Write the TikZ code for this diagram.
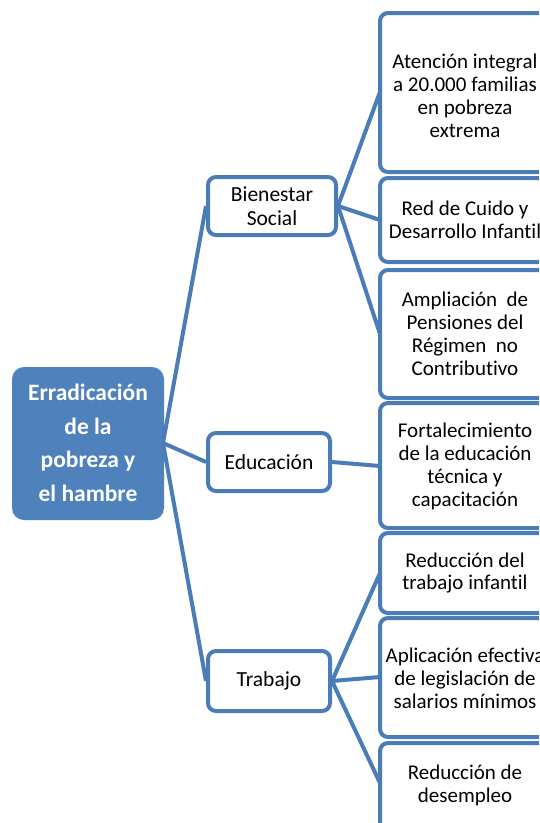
\documentclass[tikz,border=0pt]{standalone}
\usepackage{fontspec}
\setmainfont[Ligatures={NoCommon}]{Carlito}
\definecolor{blu}{RGB}{79,129,189}
\definecolor{edge}{RGB}{74,124,184}
\begin{document}
\begin{tikzpicture}[x=1pt,y=-1pt,
  box/.style={draw=edge,line width=4pt,rounded corners=8pt,fill=white},
  txt/.style={align=center,font=\fontsize{21}{23}\selectfont,inner sep=0pt},
  mtxt/.style={align=center,font=\fontsize{21.5}{24}\selectfont,inner sep=0pt},
  conn/.style={draw=edge,line width=4pt}]
\useasboundingbox (0,0) rectangle (539,823);
\clip (0,0) rectangle (539,823);
% root
\node[fill=blu,rounded corners=12pt,minimum width=152pt,minimum height=153pt,inner sep=0pt] (root) at (88,443.5) {};
\node[text=white,font=\bfseries\fontsize{23.5}{33.5}\selectfont,align=center,inner sep=0pt] (roottxt) at (88,443) {Erradicación\\de la\\pobreza y\\el hambre};
\coordinate (hub) at (163,443);
% second level
\node[box,minimum width=128pt,minimum height=58pt] (bien) at (272,206) {};
\node[mtxt] at (272,206) {Bienestar\\Social};
\node[box,minimum width=122pt,minimum height=58pt] (edu) at (269,462) {};
\node[mtxt] at (269,462) {Educación};
\node[box,minimum width=122pt,minimum height=60pt] (trab) at (269,681) {};
\node[mtxt] at (269,681) {Trabajo};
% third level boxes (left edge 380, right edge beyond page)
\coordinate (b1w) at (380,92);
\coordinate (b2w) at (380,220);
\coordinate (b3w) at (380,334);
\coordinate (b4w) at (380,466);
\coordinate (b5w) at (380,573);
\coordinate (b6w) at (380,677);
\coordinate (b7w) at (380,783);
% connectors
\draw[conn] (hub) -- (bien.west);
\draw[conn] (hub) -- (edu.west);
\draw[conn] (hub) -- (trab.west);
\draw[conn] (bien.east) -- (b1w);
\draw[conn] (bien.east) -- (b2w);
\draw[conn] (bien.east) -- (b3w);
\draw[conn] (edu.east) -- (b4w);
\draw[conn] (trab.east) -- (b5w);
\draw[conn] (trab.east) -- (b6w);
\draw[conn] (trab.east) -- (b7w);
\node[box,minimum width=172pt,minimum height=159pt,inner sep=0pt] (n1) at (466,92.5) {};
\node[txt] at (465,96) {Atención integral\\a 20.000 familias\\en pobreza\\extrema};
\node[box,minimum width=172pt,minimum height=84pt,inner sep=0pt] (n2) at (466,220) {};
\node[txt] at (465,220) {Red de Cuido y\\Desarrollo Infantil};
\node[box,minimum width=172pt,minimum height=128pt,inner sep=0pt] (n3) at (466,334) {};
\node[txt] at (465,334) {Ampliación~ de\\Pensiones del\\Régimen~ no\\Contributivo};
\node[box,minimum width=172pt,minimum height=125pt,inner sep=0pt] (n4) at (466,465.5) {};
\node[txt] at (465,466) {Fortalecimiento\\de la educación\\técnica y\\capacitación};
\node[box,minimum width=172pt,minimum height=80pt,inner sep=0pt] (n5) at (466,573) {};
\node[txt] at (465,573) {Reducción del\\trabajo infantil};
\node[box,minimum width=172pt,minimum height=119pt,inner sep=0pt] (n6) at (466,677.5) {};
\node[txt] at (465,678) {Aplicación efectiva\\de legislación de\\salarios mínimos};
\node[box,minimum width=172pt,minimum height=90pt,inner sep=0pt] (n7) at (466,788) {};
\node[txt] at (465,785) {Reducción de\\desempleo};
\end{tikzpicture}
\end{document}
